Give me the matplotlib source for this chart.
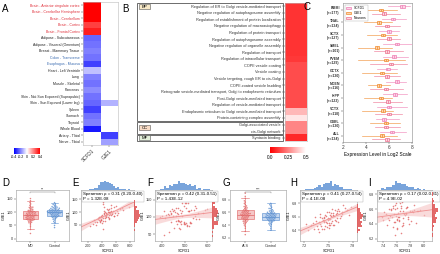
import numpy as np
import matplotlib
matplotlib.use("Agg")
import matplotlib.pyplot as plt
import matplotlib as mpl
from matplotlib.colors import LinearSegmentedColormap
from matplotlib.patches import Rectangle, Patch
import seaborn as sns

plt.rcParams['font.family'] = ['Liberation Sans', 'DejaVu Sans']

# -----------------------------
# DATA
# -----------------------------

# Panel A: tissue correlation heatmap
tissues = ["Brain - Anterior cingulate cortex", "Brain - Cerebellar Hemisphere",
           "Brain - Cerebellum", "Brain - Cortex", "Brain - Frontal Cortex",
           "Adipose - Subcutaneous", "Adipose - Visceral (Omentum)",
           "Breast - Mammary Tissue", "Colon - Transverse", "Esophagus - Mucosa",
           "Heart - Left Ventricle", "Lung", "Muscle - Skeletal", "Pancreas",
           "Skin - Not Sun Exposed (Suprapubic)", "Skin - Sun Exposed (Lower leg)",
           "Spleen", "Stomach", "Thyroid", "Whole Blood", "Artery - Tibial",
           "Nerve - Tibial"]
red_tissues = tissues[:5]
blue_tissues = ["Colon - Transverse", "Esophagus - Mucosa"]
scfd1_r = [0.42, 0.40, 0.42, 0.30, 0.35, -0.24, -0.22, -0.20, -0.22, -0.30, -0.10,
           -0.20, -0.22, -0.18, -0.22, -0.24, -0.30, -0.22, -0.20, -0.36, np.nan, np.nan]
gje1_r = [np.nan] * 15 + [-0.12] + [np.nan] * 4 + [-0.30, -0.15]
heat_genes = ["SCFD1", "GJE1"]

# Panel B: GO enrichment
go_terms = ["Regulation of ER to Golgi vesicle-mediated transport",
            "Negative regulation of autophagosome assembly",
            "Regulation of establishment of protein localization",
            "Negative regulation of macroautophagy",
            "Regulation of protein transport",
            "Regulation of autophagosome assembly",
            "Negative regulation of organelle assembly",
            "Regulation of transport",
            "Regulation of intracellular transport",
            "COPII vesicle coating",
            "Vesicle coating",
            "Vesicle targeting, rough ER to cis-Golgi",
            "COPII-coated vesicle budding",
            "Retrograde vesicle-mediated transport, Golgi to endoplasmic reticulum",
            "Post-Golgi vesicle-mediated transport",
            "Regulation of vesicle-mediated transport",
            "Endoplasmic reticulum to Golgi vesicle-mediated transport",
            "Protein-containing complex assembly",
            "Golgi-associated vesicle",
            "cis-Golgi network",
            "Syntaxin binding"]
go_vals = [0.10, 0.10, 0.10, 0.10, 0.10, 0.10, 0.10, 0.10, 0.11, 0.15, 0.15, 0.15,
           0.15, 0.15, 0.15, 0.15, 0.36, 0.45, 0.26, 0.26, 0.08]
go_groups = [("BP", 18, "#f7e8c6"), ("CC", 2, "#f9dcc6"), ("MF", 1, "#e3f0d9")]

# Panel C: expression per region (whislo, q1, med, q3, whishi)
regions = ["BMMI", "TNAL", "SCTX", "SMEL", "PVEM", "OCTX", "MDEN", "HIPP", "VCTX", "CBBL", "ALL"]
region_n = [177, 134, 127, 101, 129, 130, 116, 123, 118, 130, 134]
c_series = ["SCFD1", "GJE1", "Neurons"]
c_pink = [(5.94, 6.95, 7.15, 7.35, 7.83), (5.36, 6.20, 6.38, 6.55, 7.48),
          (5.16, 5.85, 6.03, 6.20, 6.90), (5.50, 6.55, 6.72, 6.90, 7.97),
          (5.45, 6.25, 6.43, 6.60, 7.68), (4.98, 5.70, 5.86, 6.05, 6.67),
          (5.74, 6.55, 6.72, 6.90, 7.48), (5.50, 6.35, 6.52, 6.70, 7.54),
          (4.93, 5.82, 6.00, 6.18, 7.54), (4.90, 5.42, 5.60, 5.78, 6.90),
          (5.20, 6.05, 6.23, 6.40, 7.45)]
c_orange = [(4.20, 5.12, 5.30, 5.48, 6.67), (3.86, 4.95, 5.13, 5.30, 6.23),
            (4.06, 5.32, 5.50, 5.68, 6.67), (3.33, 4.80, 4.98, 5.15, 6.23),
            (3.33, 5.56, 5.74, 5.92, 7.39), (3.62, 5.24, 5.42, 5.60, 6.72),
            (4.20, 4.98, 5.16, 5.34, 6.09), (3.80, 5.10, 5.28, 5.46, 6.23),
            (3.62, 5.27, 5.45, 5.63, 6.38), (4.35, 5.56, 5.74, 5.92, 6.96),
            (3.62, 5.18, 5.36, 5.54, 6.67)]
c_rose = [(4.50, 5.42, 5.60, 5.78, 6.96), (4.78, 5.68, 5.86, 6.04, 6.96),
          (4.93, 5.85, 6.03, 6.20, 6.96), (4.70, 5.68, 5.86, 6.04, 7.25),
          (4.35, 5.96, 6.14, 6.32, 7.54), (4.70, 5.68, 5.86, 6.04, 6.96),
          (4.35, 5.53, 5.71, 5.89, 7.25), (4.64, 5.76, 5.94, 6.12, 7.10),
          (4.78, 5.82, 6.00, 6.18, 7.10), (4.78, 5.56, 5.74, 5.92, 6.96),
          (4.50, 5.68, 5.86, 6.04, 6.96)]

# Panel D: GJE1 in MD vs Control
d_md = [85, 92, 70, 110, 78, 95, 64, 120, 88, 101, 73, 58, 130, 83, 97, 76, 105, 90, 45, 115,
        81, 99, 68, 87, 125, 74, 93, 60, 108, 84, 142, 79, 96, 71, 102, 35, 89, 117, 66, 86,
        104, 77, 94, 52, 112, 82, 98, 69, 135, 91, 75, 106, 62, 88, 20, 100, 80, 118, 72, 150]
d_ctrl = [98, 105, 85, 112, 92, 120, 78, 101, 95, 130, 88, 108, 70, 99, 115, 82, 103, 96, 125, 60,
          110, 90, 100, 84, 118, 94, 107, 75, 102, 135, 87, 97, 113, 80, 104, 65, 99, 122, 91, 109,
          86, 100, 116, 73, 106, 93, 128, 83, 101, 111, 50, 96, 119, 89, 103, 79, 108, 95, 114, 42]

# Panel E: SCFD1 vs GJE1
e_x = [412, 455, 380, 520, 610, 298, 470, 390, 505, 440, 350, 560, 430, 480, 615, 270, 400, 495,
       530, 365, 445, 580, 320, 460, 415, 700, 375, 540, 490, 425, 340, 600, 450, 510, 395, 230,
       470, 560, 420, 385, 650, 500, 355, 435, 475, 545, 310, 405, 520, 460, 780, 390, 480, 430,
       570, 345, 410, 500, 455, 620, 285, 440, 530, 370, 490, 415, 680, 465, 395, 550]
e_y = [78, 95, 70, 102, 88, 62, 110, 85, 92, 75, 68, 120, 98, 80, 105, 55, 90, 72, 115, 82, 100,
       96, 60, 87, 130, 108, 65, 94, 76, 104, 72, 125, 84, 99, 58, 45, 93, 86, 118, 74, 112, 90,
       81, 66, 101, 97, 50, 140, 88, 79, 120, 71, 106, 92, 83, 77, 64, 112, 89, 95, 70, 86, 128,
       61, 100, 35, 115, 91, 82, 103]

# Panel F
f_x = [480, 455, 520, 430, 500, 470, 545, 410, 495, 465, 530, 440, 515, 485, 560, 400, 475, 505,
       450, 525, 490, 580, 420, 460, 510, 470, 540, 435, 495, 520, 390, 485, 550, 445, 500, 465,
       600, 425, 480, 515, 455, 535, 470, 410, 505, 490, 565, 440, 475, 520, 460, 498, 430, 545,
       485, 512, 450, 590, 470, 495, 415, 530, 462, 505, 478, 548, 438, 488, 522, 458]
f_y = [120, 68, 116, 56, 140, 87, 133, 46, 132, 78, 121, 84, 139, 79, 110, 103, 69, 125, 102, 84,
       141, 112, 106, 87, 76, 109, 119, 118, 84, 73, 101, 87, 125, 124, 79, 112, 122, 109, 66, 118,
       120, 96, 91, 117, 83, 117, 93, 109, 87, 116, 127, 78, 105, 102, 111, 73, 118, 121, 126, 83,
       97, 82, 102, 141, 86, 93, 111, 104, 82, 113]

# Panel G: GJE1 in ALS vs Control
g_als = [6.56, 6.62, 6.48, 6.70, 6.52, 6.58, 6.44, 6.66, 6.55, 6.60, 6.40, 6.74, 6.50, 6.57, 6.63,
         6.46, 6.53, 6.68, 6.35, 6.59, 6.51, 6.64, 6.47, 6.78, 6.54, 6.61, 6.42, 6.57, 6.69, 6.49,
         6.85, 6.55, 6.30, 6.63, 6.52, 6.58, 6.45, 6.72, 6.56, 6.60, 6.38, 6.54, 6.65, 6.48, 6.59,
         6.50, 6.82, 6.57, 6.25, 6.62, 6.53, 6.67, 6.46, 6.58, 6.55, 6.76, 6.43, 6.61, 6.51, 6.90]
g_ctrl = [6.52, 6.58, 6.46, 6.62, 6.50, 6.55, 6.42, 6.60, 6.53, 6.48, 6.66, 6.51, 6.56, 6.38, 6.59,
          6.47, 6.54, 6.70, 6.49, 6.57, 6.44, 6.63, 6.52, 6.35, 6.55, 6.61, 6.45, 6.53, 6.68, 6.50,
          6.58, 6.41, 6.56, 6.48, 6.64, 6.51, 6.74, 6.54, 6.46, 6.60, 6.32, 6.52, 6.57, 6.43, 6.62,
          6.50, 6.55, 6.47, 6.59, 6.53, 6.40, 6.66, 6.49, 6.56, 6.72]

# Panel H
h_x = [7.45, 7.52, 7.38, 7.60, 7.48, 7.55, 7.32, 7.66, 7.50, 7.42, 7.58, 7.47, 7.63, 7.35, 7.53,
       7.44, 7.70, 7.51, 7.40, 7.57, 7.28, 7.49, 7.62, 7.46, 7.54, 7.37, 7.59, 7.43, 7.68, 7.52,
       7.25, 7.56, 7.48, 7.64, 7.41, 7.50, 7.73, 7.45, 7.55, 7.34, 7.61, 7.47, 7.53, 7.39, 7.58,
       7.22, 7.51, 7.66, 7.44, 7.57, 7.49, 7.36, 7.62, 7.46, 7.54, 7.78, 7.42, 7.59, 7.50, 7.31,
       7.56, 7.48, 7.65, 7.40, 7.53, 7.45, 7.60, 7.38, 7.52, 7.75]
h_y = [6.58, 6.48, 6.52, 6.69, 6.51, 6.63, 6.42, 6.64, 6.67, 6.42, 6.56, 6.62, 6.68, 6.54, 6.51,
       6.54, 6.73, 6.43, 6.60, 6.61, 6.48, 6.59, 6.53, 6.47, 6.72, 6.42, 6.64, 6.55, 6.77, 6.57,
       6.40, 6.48, 6.67, 6.59, 6.47, 6.57, 6.70, 6.42, 6.66, 6.60, 6.59, 6.52, 6.61, 6.49, 6.70,
       6.50, 6.51, 6.67, 6.60, 6.48, 6.55, 6.46, 6.72, 6.63, 6.54, 6.74, 6.58, 6.54, 6.48, 6.51,
       6.61, 6.45, 6.62, 6.64, 6.66, 6.52, 6.66, 6.38, 6.63, 6.63]

# Panel I
i_x = [7.62, 7.70, 7.55, 7.78, 7.65, 7.48, 7.85, 7.60, 7.72, 7.52, 7.68, 7.58, 7.90, 7.64, 7.45,
       7.75, 7.61, 7.80, 7.56, 7.67, 7.42, 7.73, 7.63, 7.95, 7.59, 7.69, 7.50, 7.82, 7.66, 7.54,
       7.76, 7.62, 7.40, 7.71, 7.57, 7.88, 7.64, 7.53, 7.79, 7.60, 7.67, 7.47, 7.74, 7.58, 8.00,
       7.63, 7.51, 7.70, 7.65, 7.84, 7.56, 7.61, 7.44, 7.77, 7.66, 7.59, 7.92, 7.68, 7.55, 7.73,
       7.62, 7.49, 7.81, 7.64, 7.57, 7.69, 7.38, 7.75, 7.60, 7.86]
i_y = [6.55, 6.48, 6.62, 6.40, 6.58, 6.45, 6.66, 6.35, 6.52, 6.60, 6.70, 6.43, 6.57, 6.50, 6.38,
       6.63, 6.47, 6.74, 6.53, 6.28, 6.56, 6.61, 6.44, 6.59, 6.68, 6.41, 6.51, 6.58, 6.64, 6.36,
       6.49, 6.72, 6.46, 6.54, 6.60, 6.42, 6.78, 6.50, 6.57, 6.33, 6.62, 6.48, 6.55, 6.66, 6.52,
       6.45, 6.59, 6.39, 6.69, 6.56, 6.43, 6.61, 6.53, 6.47, 6.82, 6.51, 6.58, 6.37, 6.64, 6.54,
       6.49, 6.60, 6.44, 6.71, 6.25, 6.57, 6.50, 6.63, 6.46, 6.59]

# -----------------------------
# FIGURE SETUP
# -----------------------------
W, H = 440, 254
fig = plt.figure(figsize=(4.4, 2.54), dpi=100)
FS = 2.7
BOT = 241  # bottom edge of the lower row of panels


def px_axes(x0, y0, x1, y1):
    # axes placed by pixel box (top-left origin)
    return fig.add_axes([x0 / W, 1 - y1 / H, (x1 - x0) / W, (y1 - y0) / H])


def px_rect(x0, y0, x1, y1, **kw):
    fig.add_artist(Rectangle((x0 / W, 1 - y1 / H), (x1 - x0) / W, (y1 - y0) / H,
                             transform=fig.transFigure, **kw))


def letter(x, y, s):
    fig.text(x / W, 1 - y / H, s, fontsize=7, va="center", ha="left")


def thin_spines(ax, color="#9a9a9a"):
    for sp in ax.spines.values():
        sp.set_linewidth(0.4)
        sp.set_color(color)
    ax.tick_params(labelsize=FS, length=1.5, width=0.3, pad=0.8, colors="#333333")


# -----------------------------
# PANEL A
# -----------------------------
letter(2, 9, "A")
axA = px_axes(83, 2, 118, 145)
matA = np.ma.masked_invalid(np.array([scfd1_r, gje1_r]).T)
axA.pcolormesh(matA, cmap="bwr", vmin=-0.4, vmax=0.4)
axA.set_ylim(len(tissues), 0)
axA.set_yticks(np.arange(len(tissues)) + 0.5, tissues)
axA.set_xticks([0.5, 1.5])
axA.set_xticklabels(heat_genes, rotation=45, ha="right", rotation_mode="anchor")
thin_spines(axA, "#bbbbbb")
axA.tick_params(axis="y", labelsize=2.5)
axA.tick_params(axis="x", labelsize=3.4)
for lab in axA.get_yticklabels():
    t = lab.get_text()
    lab.set_color("#e0303a" if t in red_tissues else ("#3a6bb0" if t in blue_tissues else "#222222"))

cbA = px_axes(14, 148, 40, 154)
cbarA = mpl.colorbar.ColorbarBase(cbA, cmap="bwr", norm=mpl.colors.Normalize(-0.4, 0.4),
                                  orientation="horizontal", ticks=[-0.4, -0.2, 0, 0.2, 0.4])
cbA.set_xticklabels(["-0.4", "-0.2", "0", "0.2", "0.4"])
cbA.tick_params(labelsize=2.6, length=0, pad=1)
cbarA.outline.set_linewidth(0)

# -----------------------------
# PANEL B
# -----------------------------
letter(122, 9, "B")
cmapB = LinearSegmentedColormap.from_list("redwhite", ["#ff0000", "#ffffff"])
axB = px_axes(285, 3, 307, 141)
axB.pcolormesh(np.array(go_vals)[:, None], cmap=cmapB, vmin=0, vmax=0.5)
axB.set_ylim(len(go_terms), 0)
axB.set_yticks(np.arange(len(go_terms)) + 0.5, go_terms)
axB.set_xticks([])
thin_spines(axB, "#bbbbbb")
axB.tick_params(axis="y", length=2.2, labelsize=2.8)

row_h = (141 - 3) / len(go_terms)
start = 0
for name, count, col in go_groups:
    y0 = 3 + start * row_h
    y1 = 3 + (start + count) * row_h
    px_rect(137, y0 + 0.4, 283, y1 - 0.4, fill=False, ec="#555555", lw=0.6)
    ly = y0 + 1.2 if count > 2 else (y0 + y1) / 2 - 2.6
    px_rect(139, ly, 150, ly + 5.2, fc=col, ec="#555555", lw=0.4)
    fig.text(144.5 / W, 1 - (ly + 2.6) / H, name, fontsize=3.2, ha="center", va="center")
    start += count

cbB = px_axes(270, 147, 306, 153)
cbarB = mpl.colorbar.ColorbarBase(cbB, cmap=cmapB, norm=mpl.colors.Normalize(0, 0.5),
                                  orientation="horizontal", ticks=[0, 0.25, 0.5])
cbB.set_xticklabels(["0.0", "0.25", "0.5"])
cbB.tick_params(labelsize=3.4, length=0, pad=1.5)
cbarB.outline.set_linewidth(0)

# -----------------------------
# PANEL C
# -----------------------------
letter(303, 7, "C")
axC = px_axes(343, 3, 412, 142)
pos = np.arange(len(regions))
c_styles = [(c_pink, -0.29, "#fbd3e6", "#ef7fb4"),
            (c_orange, 0.0, "#fcd5ad", "#f08a2c"),
            (c_rose, 0.29, "#fcd6de", "#ec6f8e")]
for rows, off, fc, ec in c_styles:
    stats = [dict(whislo=r[0], q1=r[1], med=r[2], q3=r[3], whishi=r[4], fliers=[]) for r in rows]
    axC.bxp(stats, positions=pos + off, widths=0.2, orientation="horizontal",
            patch_artist=True, showcaps=False, showfliers=False, manage_ticks=False,
            boxprops=dict(facecolor=fc, edgecolor=ec, lw=0.5),
            whiskerprops=dict(color=ec, lw=0.5, alpha=0.8),
            medianprops=dict(color=ec, lw=0.5))
axC.set_ylim(len(regions) - 0.5, -0.55)
axC.set_xlim(2, 8)
axC.set_xticks([2, 4, 6, 8])
axC.set_yticks(pos, [f"{r}\n(n={n})" for r, n in zip(regions, region_n)])
thin_spines(axC, "#888888")
axC.tick_params(axis="y", labelsize=2.5)
for lab in axC.get_yticklabels():
    lab.set_fontweight("bold")
axC.tick_params(axis="x", labelsize=3.4)
axC.set_xlabel("Expression Level in Log2 Scale", fontsize=3.4, labelpad=1.5)
handles = [Patch(fc=s[2], ec=s[3], lw=0.5, label=lab) for s, lab in zip(c_styles, c_series)]
axC.legend(handles=handles, loc="upper left", fontsize=2.4, frameon=True, handlelength=1.6,
           handleheight=0.7, borderpad=0.4, labelspacing=0.3, edgecolor="#999999",
           fancybox=False).get_frame().set_linewidth(0.3)


# -----------------------------
# GROUP COMPARISON (D, G)
# -----------------------------
def group_panel(box, vals_a, vals_b, names, ylim, yticks, star):
    ax = px_axes(*box)
    colors = ["#e06666", "#5b8fd0"]
    faces = ["#f4bcbc", "#bcd2ee"]
    bp = ax.boxplot([vals_a, vals_b], positions=[0, 1], widths=0.65, patch_artist=True,
                    showfliers=False, showcaps=True, manage_ticks=False)
    for k in range(2):
        bp["boxes"][k].set(facecolor=faces[k], edgecolor=colors[k], lw=0.5, alpha=0.85)
        bp["medians"][k].set(color=colors[k], lw=0.5)
        for w in bp["whiskers"][2 * k:2 * k + 2] + bp["caps"][2 * k:2 * k + 2]:
            w.set(color=colors[k], lw=0.4)
    labels = [names[0]] * len(vals_a) + [names[1]] * len(vals_b)
    sns.swarmplot(x=labels, y=list(vals_a) + list(vals_b), hue=labels,
                  palette=dict(zip(names, colors)), size=1.1, ax=ax, legend=False,
                  alpha=0.8, linewidth=0)
    ax.set_xlim(-0.6, 1.6)
    ax.set_ylim(*ylim)
    ax.set_yticks(yticks)
    ax.set_xticks([0, 1], names)
    top = ylim[1] - (ylim[1] - ylim[0]) * 0.04
    ax.plot([0, 0, 1, 1], [top - (ylim[1] - ylim[0]) * 0.02, top, top,
                           top - (ylim[1] - ylim[0]) * 0.02], color="#666666", lw=0.3)
    ax.text(0.5, top, star, fontsize=2.8, ha="center", va="bottom", color="#333333")
    ax.set_xlabel("")
    ax.set_ylabel("GJE1", fontsize=FS, labelpad=0.8)
    thin_spines(ax)
    return ax


letter(2, 183, "D")
group_panel((16, 190, 69, BOT), d_md, d_ctrl, ["MD", "Control"], (-8, 182), [0, 50, 100, 150], "**")
letter(222, 183, "G")
group_panel((230, 190, 286, BOT), g_als, g_ctrl, ["ALS", "Control"], (6.15, 6.95),
            [6.2, 6.4, 6.6, 6.8], "***")


# -----------------------------
# CORRELATION PANELS (E, F, H, I)
# -----------------------------
def corr_panel(box, x, y, xlim, ylim, xticks, yticks, txt):
    x0, y0, x1, y1 = box
    x = np.array(x, dtype=float)
    y = np.array(y, dtype=float)
    ax = px_axes(x0, y0, x1, y1)
    ax.scatter(x, y, s=1.3, color="#e05a5a", alpha=0.75, lw=0)
    slope, inter = np.polyfit(x, y, 1)
    xs = np.linspace(xlim[0], xlim[1], 50)
    fit = inter + slope * xs
    resid = y - (inter + slope * x)
    s = np.sqrt(np.sum(resid ** 2) / (len(x) - 2))
    se = s * np.sqrt(1 / len(x) + (xs - x.mean()) ** 2 / np.sum((x - x.mean()) ** 2))
    ax.fill_between(xs, fit - 2 * se, fit + 2 * se, color="#f6c4c4", alpha=0.6, lw=0)
    ax.plot(xs, fit, color="#f09090", lw=0.6)
    ax.set_xlim(*xlim)
    ax.set_ylim(*ylim)
    ax.set_xticks(xticks)
    ax.set_yticks(yticks)
    ax.set_xlabel("SCFD1", fontsize=FS, labelpad=0.5)
    ax.set_ylabel("GJE1", fontsize=FS, labelpad=0.8)
    thin_spines(ax)
    ax.text(0.04, 0.96, txt, transform=ax.transAxes, fontsize=3.2, va="top", ha="left",
            linespacing=1.2,
            bbox=dict(fc="white", ec="#aaaaaa", lw=0.3, boxstyle="square,pad=0.3"))
    # marginal histograms
    axt = px_axes(x0, y0 - 9, x1, y0)
    axt.hist(x, bins=25, range=xlim, color="#6a9ad8", alpha=0.9)
    axt.set_xlim(*xlim)
    axt.axis("off")
    axr = px_axes(x1, y0, x1 + 6, y1)
    axr.hist(y, bins=25, range=ylim, color="#e05a5a", alpha=0.9, orientation="horizontal")
    axr.set_ylim(*ylim)
    axr.axis("off")
    return ax


letter(72, 183, "E")
corr_panel((81, 190, 134, BOT), e_x, e_y, (100, 850), (-12, 185), [200, 400, 600, 800],
           [50, 100, 150], "Spearman \u03c1 = 0.31 (0.20-0.40)\nP = 1.32E-08")
letter(147, 183, "F")
corr_panel((155, 190, 212, BOT), f_x, f_y, (370, 620), (30, 178), [400, 500, 600],
           [50, 100, 150], "Spearman \u03c1 = 0.42 (0.31-0.51)\nP = 1.43E-12")
letter(290, 183, "H")
corr_panel((300, 190, 357, BOT), h_x, h_y, (7.15, 7.85), (6.24, 7.0), [7.2, 7.5, 7.8],
           [6.4, 6.6, 6.8], "Spearman \u03c1 = 0.41 (0.27-0.54)\nP = 4.1E-08")
letter(368, 183, "I")
corr_panel((377, 190, 432, BOT), i_x, i_y, (7.31, 8.12), (6.17, 6.86), [7.4, 7.6, 7.8, 8.0],
           [6.2, 6.4, 6.6, 6.8], "Spearman \u03c1 = 0.17 (0.02-0.31)\nP = 4.9E-02")

fig.savefig("out.png", dpi=100)
